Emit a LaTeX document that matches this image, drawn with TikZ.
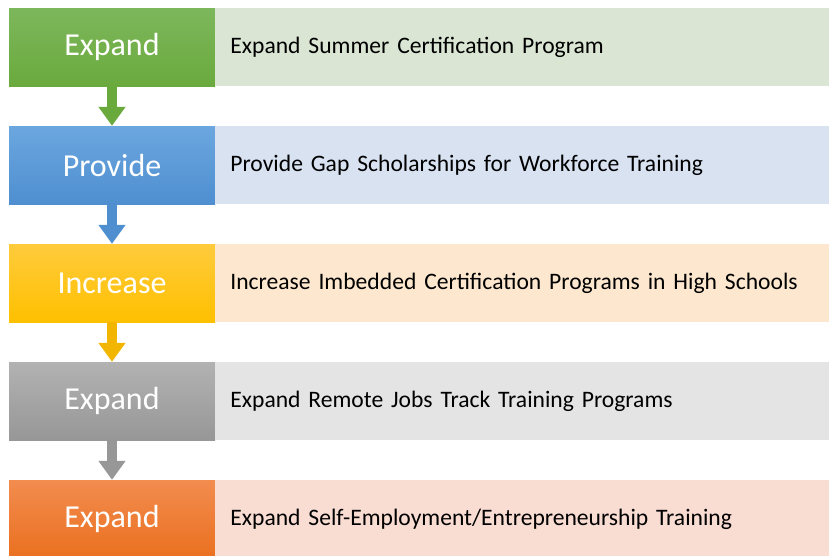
\documentclass[tikz,border=0pt]{standalone}
\usepackage{fontspec}
\setmainfont{Carlito}
\usetikzlibrary{arrows.meta,positioning}

\definecolor{greenTop}{HTML}{7DB75C}
\definecolor{greenBot}{HTML}{6AAA3D}
\definecolor{greenBg}{HTML}{DAE6D3}
\definecolor{blueTop}{HTML}{6BA6DF}
\definecolor{blueBot}{HTML}{4F8FD0}
\definecolor{blueBg}{HTML}{D8E2F1}
\definecolor{goldTop}{HTML}{FFCB3C}
\definecolor{goldBot}{HTML}{FFC000}
\definecolor{goldBg}{HTML}{FDE8CF}
\definecolor{greyTop}{HTML}{B2B2B2}
\definecolor{greyBot}{HTML}{979797}
\definecolor{greyBg}{HTML}{E4E4E4}
\definecolor{orangeTop}{HTML}{F28C4F}
\definecolor{orangeBot}{HTML}{EA701F}
\definecolor{orangeBg}{HTML}{F9DCD2}

\tikzset{
  stepbox/.style={minimum width=206pt, minimum height=78pt, inner sep=0pt,
    text=white, font=\fontsize{32}{32}\selectfont},
  itembox/.style={anchor=west, minimum height=78pt, inner ysep=0pt,
    inner xsep=15pt, text width=584pt, align=left,
    font=\fontsize{23.6}{24}\selectfont},
  link/.style={line width=10pt, -{Triangle[width=26pt,length=19pt]}}
}

\begin{document}
\begin{tikzpicture}[x=1pt,y=-1pt]
\useasboundingbox (0,0) rectangle (829,555);

% left boxes
\node[stepbox, top color=greenTop, bottom color=greenBot] (expand) at (112,47) {Expand};
\node[stepbox, top color=blueTop, bottom color=blueBot] (provide) at (112,165) {Provide};
\node[stepbox, top color=goldTop, bottom color=goldBot] (increase) at (112,283) {Increase};
\node[stepbox, top color=greyTop, bottom color=greyBot] (remote) at (112,401) {Expand};
\node[stepbox, top color=orangeTop, bottom color=orangeBot] (selfemp) at (112,519) {Expand};

% right boxes
\node[itembox, fill=greenBg] (summer) at (expand.east) {Expand Summer Certification Program};
\node[itembox, fill=blueBg] (gap) at (provide.east) {Provide Gap Scholarships for Workforce Training};
\node[itembox, fill=goldBg] (imbed) at (increase.east) {Increase Imbedded Certification Programs in High Schools};
\node[itembox, fill=greyBg] (jobs) at (remote.east) {Expand Remote Jobs Track Training Programs};
\node[itembox, fill=orangeBg] (entre) at (selfemp.east) {Expand Self-Employment/Entrepreneurship Training};

% arrows
\draw[link, greenBot] (expand.south) -- (provide.north);
\draw[link, blueBot] (provide.south) -- (increase.north);
\draw[link, goldBot!95!black] (increase.south) -- (remote.north);
\draw[link, greyBot] (remote.south) -- (selfemp.north);
\end{tikzpicture}
\end{document}
